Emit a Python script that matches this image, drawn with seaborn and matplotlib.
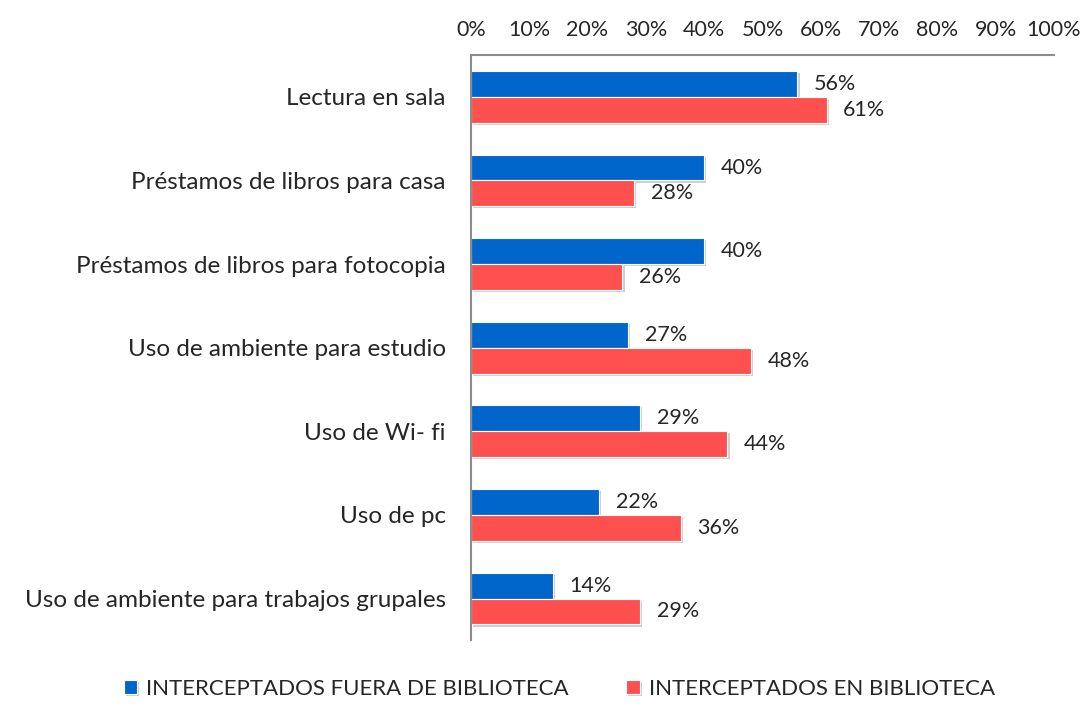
import matplotlib.pyplot as plt
import matplotlib.patheffects as pe
import pandas as pd
import seaborn as sns

sns.set_style("white")
plt.rcParams['font.family'] = ['Lato', 'DejaVu Sans']

categorias = ["Lectura en sala",
              "Préstamos de libros para casa",
              "Préstamos de libros para fotocopia",
              "Uso de ambiente para estudio",
              "Uso de Wi- fi",
              "Uso de pc",
              "Uso de ambiente para trabajos grupales"]
fuera = [56, 40, 40, 27, 29, 22, 14]
dentro = [61, 28, 26, 48, 44, 36, 29]
series = ["INTERCEPTADOS FUERA DE BIBLIOTECA", "INTERCEPTADOS EN BIBLIOTECA"]
colores = ["#0066CC", "#FF5050"]

df = pd.DataFrame({
    "cat": categorias * 2,
    "valor": fuera + dentro,
    "serie": [series[0]] * 7 + [series[1]] * 7,
})

fig = plt.figure(figsize=(10.9, 7.06), dpi=100)
ax = fig.add_axes([0.432, 0.093, 0.535, 0.829])
sns.barplot(data=df, x="valor", y="cat", hue="serie", orient="h", saturation=1,
            palette=colores, width=0.62, ax=ax, edgecolor="white", linewidth=0.8)

# sombra suave como en el original
for p in ax.patches:
    p.set_path_effects([pe.SimplePatchShadow(offset=(1.5, -1.5), shadow_rgbFace="#b0b0b0", alpha=0.6),
                        pe.Normal()])

for cont in ax.containers:
    ax.bar_label(cont, labels=[f"{v:.0f}%" for v in cont.datavalues],
                 padding=12, fontsize=15.5)

ax.set_xlim(0, 100)
ax.set_xticks(range(0, 101, 10))
ax.set_xticklabels([f"{t}%" for t in range(0, 101, 10)], fontsize=15.5)
ax.xaxis.tick_top()
ax.tick_params(axis="x", length=0, pad=11)
ax.tick_params(axis="y", length=0, labelsize=17.5, pad=18)
ax.set_xlabel("")
ax.set_ylabel("")
for s in ["right", "bottom"]:
    ax.spines[s].set_visible(False)
for s in ["top", "left"]:
    ax.spines[s].set_color("#8c8c8c")
    ax.spines[s].set_linewidth(1.5)

ax.legend(loc="lower center", bbox_to_anchor=(0.513, -0.018), bbox_transform=fig.transFigure,
          ncol=2, frameon=False, fontsize=16, handlelength=0.6, handleheight=0.6,
          columnspacing=2.6, handletextpad=0.4)

fig.savefig("out.png", dpi=100)
